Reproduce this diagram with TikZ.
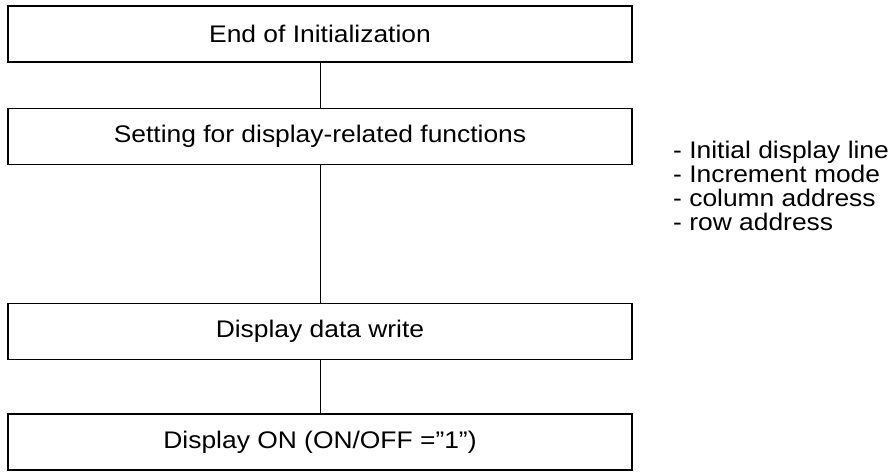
\documentclass[tikz,border=0pt]{standalone}
\usepackage{fontspec}
\setmainfont{Liberation Sans}[FakeStretch=1.1]
\begin{document}
\begin{tikzpicture}[x=1pt,y=-1pt,
  stepbox/.style={draw, line width=1.4pt, minimum width=624pt, minimum height=56pt, inner sep=0pt, font=\fontsize{24}{28}\selectfont},
  note/.style={anchor=base west, inner sep=0pt, font=\fontsize{24}{28}\selectfont},
  conn/.style={line width=0.8pt}]
\useasboundingbox (0,0) rectangle (889,472);
\node[stepbox] (b1) at (320,34) {End of Initialization};
\node[stepbox] (b2) at (320,136.5) {Setting for display-related functions};
\node[stepbox] (b3) at (320,331.5) {Display data write};
\node[stepbox] (b4) at (320,442) {Display ON (ON/OFF ="1")};
\draw[conn] (b1) -- (b2);
\draw[conn] (b2) -- (b3);
\draw[conn] (b3) -- (b4);
\node[note] (n1) at (673,158) {- Initial display line};
\node[note] (n2) at (673,182) {- Increment mode};
\node[note] (n3) at (673,206) {- column address};
\node[note] (n4) at (673,230) {- row address};
\end{tikzpicture}
\end{document}
